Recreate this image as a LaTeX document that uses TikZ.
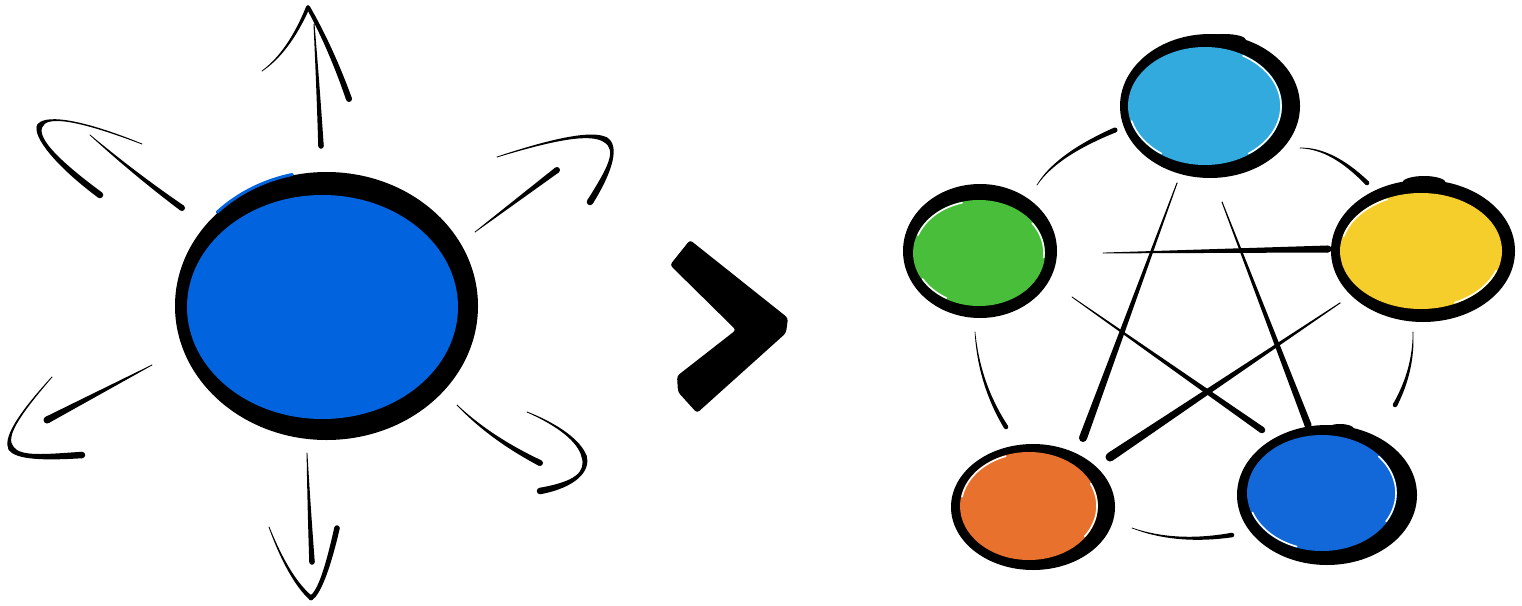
\documentclass[tikz,border=0pt]{standalone}
\usetikzlibrary{calc,shapes.geometric}
\definecolor{bigblue}{RGB}{1,100,222}
\definecolor{ncyan}{RGB}{50,170,222}
\definecolor{ngreen}{RGB}{72,190,58}
\definecolor{nyellow}{RGB}{246,206,44}
\definecolor{norange}{RGB}{232,113,46}
\definecolor{nblue}{RGB}{18,104,216}
% tapered cubic stroke: start, control 1, control 2, end, start width, end width
\newcommand\taperb[6]{%
  \fill ($(#1)!{#5*0.5pt}!90:(#2)$)
    .. controls ($(#2)!{(2*#5+#6)/6*1pt}!-90:(#1)$) and ($(#3)!{(#5+2*#6)/6*1pt}!90:(#4)$)
    .. ($(#4)!{#6*0.5pt}!-90:(#3)$)
    -- ($(#4)!{#6*0.5pt}!90:(#3)$)
    .. controls ($(#3)!{(#5+2*#6)/6*1pt}!-90:(#4)$) and ($(#2)!{(2*#5+#6)/6*1pt}!90:(#1)$)
    .. ($(#1)!{#5*0.5pt}!-90:(#2)$) -- cycle;
  \fill (#1) circle[radius=#5*0.5];
  \fill (#4) circle[radius=#6*0.5];}
% tapered quadratic stroke: start, control, end, start width, end width
\newcommand\taperq[5]{%
  \path (#1) coordinate (tqA) (#3) coordinate (tqB)
        ($(#1)!0.6667!(#2)$) coordinate (tqP) ($(#3)!0.6667!(#2)$) coordinate (tqQ);
  \taperb{tqA}{tqP}{tqQ}{tqB}{#4}{#5}}
% tapered straight stroke: start, end, start width, end width
\newcommand\taperl[4]{%
  \fill ($(#1)!{#3*0.5pt}!90:(#2)$) -- ($(#2)!{#4*0.5pt}!-90:(#1)$)
    -- ($(#2)!{#4*0.5pt}!90:(#1)$) -- ($(#1)!{#3*0.5pt}!-90:(#2)$) -- cycle;
  \fill (#1) circle[radius=#3*0.5];
  \fill (#2) circle[radius=#4*0.5];}
\tikzset{
  ringout/.style={ellipse, fill=black, draw=none, inner sep=0pt, outer sep=0pt},
  disc/.style={ellipse, draw=none, inner sep=0pt, outer sep=0pt},
  shine/.style={white, line width=1.6pt, line cap=round},
}
\begin{document}
\begin{tikzpicture}[x=1pt,y=-1pt]
\useasboundingbox (0,0) rectangle (1522,605);
\fill[white] (0,0) rectangle (1522,605);

% ---------------- left: hub with arrows
\node[ringout, minimum width=303pt, minimum height=268pt] (hub) at (326.5,306) {};
\node[disc, fill=bigblue, minimum width=271pt, minimum height=224pt] (hubin) at (322.5,307) {};
\draw[bigblue, line width=3pt, line cap=round]
  ($(hub.center)+(224:152 and 135)$) arc[start angle=224, end angle=257, x radius=152, y radius=135];

% up
\taperq{314,24}{318,85}{321,146}{1}{5.5}
\taperq{262,71}{289,52}{308,7}{0.7}{3.8}
\taperq{308,7}{331,48}{349,99}{3.8}{6}
% upper left
\taperq{90,135}{136,175}{182,208}{0.7}{6}
\taperb{142,144}{76,118}{44.25,115}{39.6,126.4}{0.8}{5.5}
\taperb{39.6,126.4}{35,137.75}{57.5,163.5}{100,195}{5.5}{6.5}
% upper right
\taperl{475,232}{557,170}{0.7}{6}
\taperb{497,157}{558.5,137.5}{592.25,132}{605.4,139.75}{0.8}{5.5}
\taperb{605.4,139.75}{618.5,147.5}{611,168.5}{590,202}{5.5}{6.5}
% lower left
\taperl{152,365}{47,420}{0.7}{7}
\taperb{52,377}{16,417.5}{4.25,438.25}{11.1,448.25}{0.8}{5.5}
\taperb{11.1,448.25}{18,458.25}{43.5,457.5}{82,455}{5.5}{6.5}
% lower right
\taperq{457,405}{490,438}{540,463}{0.7}{6}
\taperb{527,412}{558.5,425}{579.75,441.5}{584.1,456.4}{0.8}{5}
\taperb{584.1,456.4}{588.5,471.25}{576,484.5}{540,491}{5}{6.5}
% down
\taperq{307,453}{309,507}{312,562}{0.8}{5.5}
\taperq{269,527}{289,579}{311,598}{0.8}{4.5}
\taperq{311,598}{323,590}{337,528}{4.5}{5.5}

% ---------------- chevron
\fill[black, rounded corners=3pt] (690,240) -- (788,318) -- (786,333) -- (697,413)
  -- (678,392) -- (677,376) -- (736,330) -- (670,265) -- cycle;

% ---------------- right: network
\coordinate (gc1) at (1037,185);  \coordinate (gcc) at (1056,155);  \coordinate (gc2) at (1115,130);
\coordinate (cy1) at (1300,148);  \coordinate (cyc) at (1332,148);  \coordinate (cy2) at (1367,183);
\coordinate (yb1) at (1413,332);  \coordinate (ybc) at (1414,370);  \coordinate (yb2) at (1395,405);
\coordinate (ob1) at (1132,528);  \coordinate (obc) at (1176,544);  \coordinate (ob2) at (1232,535);
\coordinate (og1) at (975,332);   \coordinate (ogc) at (979,384);   \coordinate (og2) at (1006,427);
\taperq{gc1}{gcc}{gc2}{0.6}{5}
\taperq{cy1}{cyc}{cy2}{0.6}{4.5}
\taperq{yb1}{ybc}{yb2}{0.6}{4.5}
\taperq{ob1}{obc}{ob2}{0.6}{4.5}
\taperq{og1}{ogc}{og2}{0.6}{4.5}

\coordinate (sa1) at (1177,183); \coordinate (sa2) at (1083,438);
\coordinate (sb1) at (1222,202); \coordinate (sb2) at (1308,425);
\coordinate (sc1) at (1103,253); \coordinate (sc2) at (1328,249);
\coordinate (sd1) at (1072,297); \coordinate (sd2) at (1262,430);
\coordinate (se1) at (1340,303); \coordinate (se2) at (1110,457);
\taperl{sa1}{sa2}{1}{8}
\taperl{sb1}{sb2}{1}{7}
\taperl{sc1}{sc2}{0.8}{7}
\taperl{sd1}{sd2}{0.8}{6.5}
\taperl{se1}{se2}{1}{9}

% cyan (top)
\node[ringout, minimum width=180pt, minimum height=144pt] (cyan) at (1210,106) {};
\fill (1224,40) ellipse[x radius=22, y radius=6];
\node[disc, fill=ncyan, minimum width=154pt, minimum height=118pt] (cyanin) at (1205,106) {};
\draw[shine] ($(cyanin.center)+(-60:76 and 58)$) arc[start angle=-60, end angle=55, x radius=76, y radius=58];
\draw[shine] ($(cyanin.center)+(125:76 and 58)$) arc[start angle=125, end angle=165, x radius=76, y radius=58];

% green (left)
\node[ringout, minimum width=154pt, minimum height=134pt] (green) at (980,251) {};
\fill (977,193) ellipse[x radius=30, y radius=7];
\node[disc, fill=ngreen, minimum width=132pt, minimum height=106pt] (greenin) at (979,253) {};
\draw[shine] ($(greenin.center)+(200:65 and 52)$) arc[start angle=200, end angle=255, x radius=65, y radius=52];
\draw[shine] ($(greenin.center)+(-35:65 and 52)$) arc[start angle=-35, end angle=5, x radius=65, y radius=52];
\draw[shine] ($(greenin.center)+(120:65 and 52)$) arc[start angle=120, end angle=150, x radius=65, y radius=52];

% yellow (right)
\node[ringout, minimum width=184pt, minimum height=142pt] (yellow) at (1423,251) {};
\fill (1424,183) ellipse[x radius=22, y radius=7];
\node[disc, fill=nyellow, minimum width=162pt, minimum height=116pt] (yellowin) at (1421,251) {};
\draw[shine] ($(yellowin.center)+(195:80 and 57)$) arc[start angle=195, end angle=245, x radius=80, y radius=57];
\draw[shine] ($(yellowin.center)+(20:80 and 57)$) arc[start angle=20, end angle=65, x radius=80, y radius=57];

% orange (bottom left)
\node[ringout, minimum width=164pt, minimum height=126pt] (orange) at (1033,507) {};
\fill (1040,450) ellipse[x radius=14, y radius=4];
\node[disc, fill=norange, minimum width=138pt, minimum height=108pt] (orangein) at (1029,506) {};
\draw[shine] ($(orangein.center)+(190:68 and 53)$) arc[start angle=190, end angle=250, x radius=68, y radius=53];
\draw[shine] ($(orangein.center)+(-25:68 and 53)$) arc[start angle=-25, end angle=35, x radius=68, y radius=53];

% blue (bottom right)
\node[ringout, minimum width=180pt, minimum height=140pt] (blue) at (1327,495) {};
\fill (1340,429) ellipse[x radius=14, y radius=5];
\node[disc, fill=nblue, minimum width=150pt, minimum height=116pt] (bluein) at (1322,493) {};
\draw[shine] ($(bluein.center)+(-40:74 and 57)$) arc[start angle=-40, end angle=30, x radius=74, y radius=57];
\draw[shine] ($(bluein.center)+(110:74 and 57)$) arc[start angle=110, end angle=160, x radius=74, y radius=57];
\end{tikzpicture}
\end{document}
